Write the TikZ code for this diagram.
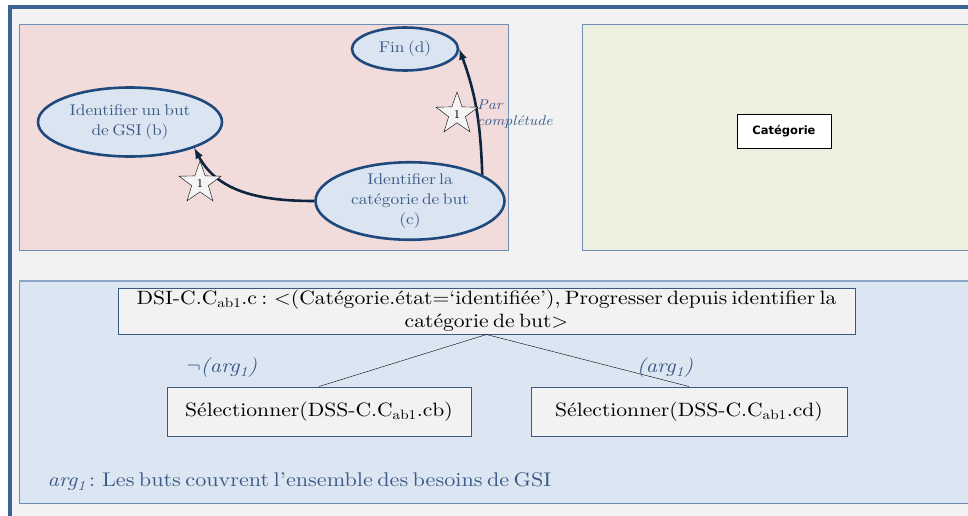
\documentclass[tikz,border=0pt]{standalone}
\usepackage{fontspec}
\usepackage{xcolor}
\usepackage{tikz}
\usetikzlibrary{shapes,arrows,positioning,calc}

\setmainfont{lmroman10-regular.otf}[ItalicFont=lmroman10-italic.otf, BoldFont=lmroman10-bold.otf, FakeStretch=1.12, WordSpace=0.6]
\newfontfamily\catfont{DejaVu Sans}
\definecolor{frameblue}{HTML}{3B6292}
\definecolor{panelline}{HTML}{6F8DB6}
\definecolor{greybg}{HTML}{F2F2F2}
\definecolor{pinkfill}{HTML}{F2DCDB}
\definecolor{greenfill}{HTML}{EBF1DE}
\definecolor{bluefill}{HTML}{DCE6F2}
\definecolor{ellfill}{HTML}{DBE5F1}
\definecolor{ellline}{HTML}{1F497D}
\definecolor{arrowcol}{HTML}{0F243E}
\definecolor{txtblue}{HTML}{3B5A88}
\definecolor{boxline}{HTML}{3C5A80}

\begin{document}
\begin{tikzpicture}[x=1pt, y=-1pt, >=latex,
    panel/.style={draw=panelline, line width=1pt},
    etape/.style={ellipse, draw=ellline, line width=2.6pt, fill=ellfill, text=txtblue, align=center, inner sep=0pt, font=\fontsize{15.5}{20}\selectfont},
    fleche/.style={->, draw=arrowcol, line width=2.6pt},
    etoile/.style={star, star points=5, star point ratio=2.5, draw=black, thin, fill=white!96!black, minimum size=44pt, inner sep=0pt, font=\fontsize{12}{12}\selectfont},
    dsibox/.style={draw=boxline, fill=greybg, line width=1pt, align=center, font=\fontsize{19.3}{23}\selectfont},
    argtxt/.style={text=txtblue, font=\fontsize{19.8}{23}\selectfont}]
    \useasboundingbox (0,0) rectangle (968,515);
    \clip (0,0) rectangle (968,515);

    % cadre et panneaux
    \draw[frameblue, line width=4pt, fill=greybg] (10,7) rectangle (1000,540);
    \draw[panel, fill=pinkfill] (19,24) rectangle (508,250);
    \draw[panel, fill=greenfill] (582,24) rectangle (990,250);
    \draw[panel, fill=bluefill] (19,281) rectangle (990,503);
    \draw[draw=panelline!80!white, line width=2pt] (19,281) -- (990,281);

    % carte
    \node[etape, minimum width=184pt, minimum height=69pt] (b) at (130,122) {Identifier un but\\de GSI (b)};
    \node[etape, minimum width=106pt, minimum height=43pt] (d) at (405,49) {Fin (d)};
    \node[etape, minimum width=189pt, minimum height=73pt] (c) at (410,201) {Identifier la\\cat\'egorie de but\\(c)};

    \draw[fleche] (c.west) to[out=180, in=-62] (b.-22);
    \draw[fleche] (c.20) to[out=92, in=-70] (d.east);

    \node[etoile] (s1) at (200,183) {1};
    \node[etoile] (s2) at (457,114) {1};
    \node[anchor=west, align=left, inner sep=0pt, text=txtblue, font=\fontsize{14}{16}\selectfont\itshape] (par) at (477,114) {Par\\compl\'etude};

    % produit
    \node[draw=black, line width=0.8pt, fill=white, minimum width=94pt, minimum height=34pt, font=\catfont\bfseries\fontsize{11.5}{12}\selectfont] (cat) at (784,131) {Cat\'egorie};

    % section directive
    \node[dsibox, minimum width=737pt, minimum height=46pt, inner sep=1pt] (dsi) at (486.5,311) {DSI-C.C\textsubscript{ab1}.c : <(Cat\'egorie.\'etat=`identifi\'ee'), Progresser depuis identifier la\\cat\'egorie de but>};
    \node[dsibox, minimum width=304pt, minimum height=49pt] (cb) at (319,411.5) {S\'electionner(DSS-C.C\textsubscript{ab1}.cb)};
    \node[dsibox, minimum width=316pt, minimum height=49pt] (cd) at (689,411.5) {S\'electionner(DSS-C.C\textsubscript{ab1}.cd)};

    \draw[thin] (dsi.south) -- (cb.north);
    \draw[thin] (dsi.south) -- (cd.north);

    \node[argtxt] (nonarg) at (222,368) {$\neg$\textit{(arg\textsubscript{1})}};
    \node[argtxt] (arg) at (665,368) {\textit{(arg\textsubscript{1})}};
    \node[argtxt, anchor=west] (legende) at (44,482) {\textit{arg\textsubscript{1}\,}: Les buts couvrent l'ensemble des besoins de GSI};
\end{tikzpicture}
\end{document}
